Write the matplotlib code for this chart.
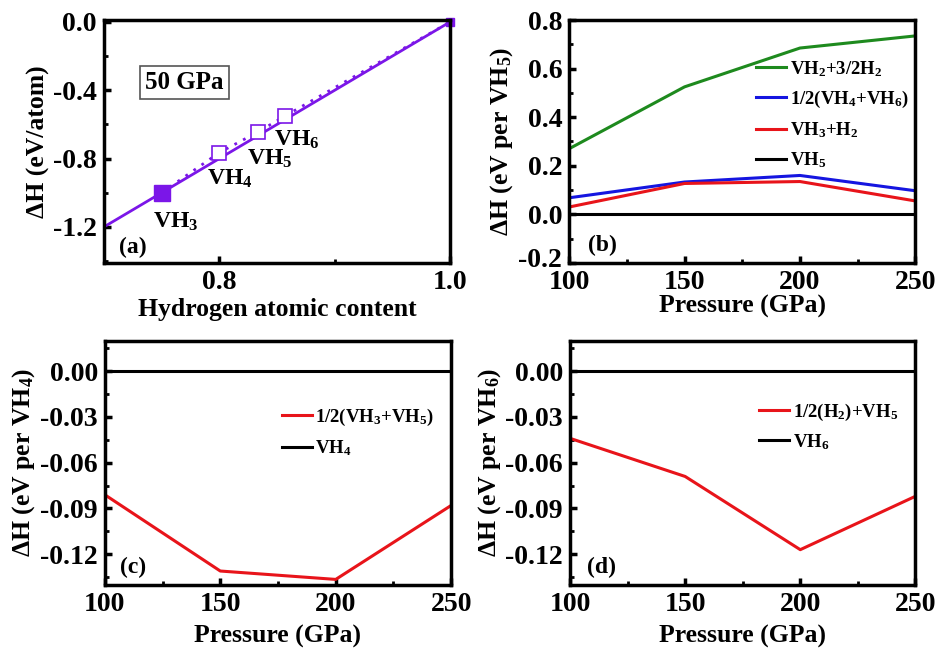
import matplotlib
matplotlib.use("Agg")
import matplotlib.pyplot as plt
from matplotlib.ticker import MultipleLocator
from matplotlib.transforms import ScaledTranslation

plt.rcParams['font.family'] = ['Liberation Serif', 'DejaVu Serif']
plt.rcParams['font.weight'] = 'bold'
plt.rcParams['mathtext.fontset'] = 'custom'
plt.rcParams['mathtext.rm'] = 'Liberation Serif:bold'
plt.rcParams['mathtext.it'] = 'Liberation Serif:bold'
plt.rcParams['mathtext.bf'] = 'Liberation Serif:bold'
plt.rcParams['mathtext.default'] = 'rm'
plt.rcParams['axes.unicode_minus'] = False

# ---- Panel (a) data ----
h_content = [0.75, 0.80, 0.8333, 0.8571, 1.0]
dH_atom = [-1.0, -0.765, -0.645, -0.55, 0.0]
hull_x = [0.70, 0.75, 1.0]
hull_y = [-1.20, -1.0, 0.0]
phase_labels = ['VH$_3$', 'VH$_4$', 'VH$_5$', 'VH$_6$']

# ---- Panels (b)-(d) data ----
pressure = [100, 150, 200, 250]
b_vh2_h2 = [0.27, 0.525, 0.685, 0.735]
b_vh4_vh6 = [0.068, 0.133, 0.16, 0.097]
b_vh3_h2 = [0.03, 0.127, 0.135, 0.055]
b_vh5 = [0, 0, 0, 0]
b_yticks = [-0.2, 0.0, 0.2, 0.4, 0.6, 0.8]
c_vh3_vh5 = [-0.081, -0.131, -0.1365, -0.088]
c_vh4 = [0, 0, 0, 0]
d_h2_vh5 = [-0.044, -0.069, -0.117, -0.082]
d_vh6 = [0, 0, 0, 0]
cd_yticks = [0.0, -0.03, -0.06, -0.09, -0.12]
cd_yticklabels = ['0.00', '-0.03', '-0.06', '-0.09', '-0.12']

purple = '#7B16E8'
green = '#1E8A1E'
blue = '#1515E0'
red = '#E8141A'

fig = plt.figure(figsize=(9.36, 6.49), dpi=100)
axa = fig.add_axes([0.111, 0.595, 0.370, 0.374])
axb = fig.add_axes([0.608, 0.595, 0.370, 0.374])
axc = fig.add_axes([0.112, 0.099, 0.370, 0.376])
axd = fig.add_axes([0.609, 0.099, 0.369, 0.376])

TICK_FS = 20
LAB_FS = 18.5
LEG_FS = 13.5

def style(ax):
    for s in ax.spines.values():
        s.set_linewidth(2.5)
    ax.tick_params(which='major', direction='in', length=5, width=2.5,
                   labelsize=TICK_FS, top=False, right=False, pad=5)
    ax.tick_params(which='minor', direction='in', length=3, width=2,
                   top=False, right=False)
    for lab in ax.get_xticklabels() + ax.get_yticklabels():
        lab.set_fontweight('bold')

# (a)
axa.plot(hull_x, hull_y, color=purple, lw=2)
axa.plot(h_content, dH_atom, color=purple, lw=2, ls=(0, (1, 2.5)))
axa.plot(h_content[0], dH_atom[0], 's', ms=11, color=purple)
axa.plot(h_content[1:4], dH_atom[1:4], 's', ms=10, mfc='white', mec=purple, mew=1.2)
axa.plot(h_content[4], dH_atom[4], 's', ms=6, color=purple, clip_on=False)
offsets = [(-6, -13), (-9, -11), (-8, -11), (-8, -9)]
for x, y, lab, off in zip(h_content[:4], dH_atom[:4], phase_labels, offsets):
    axa.annotate(lab, (x, y), xytext=off, textcoords='offset points',
                 ha='left', va='top', fontsize=17, fontweight='bold')
axa.set_xlim(0.70, 1.0)
axa.set_ylim(-1.41, 0.01)
axa.xaxis.set_minor_locator(MultipleLocator(0.1))
axa.yaxis.set_minor_locator(MultipleLocator(0.2))
axa.set_xticks([0.8, 1.0])
axa.set_xticklabels(['0.8', '1.0'])
axa.set_yticks([0.0, -0.4, -0.8, -1.2])
axa.set_yticklabels(['0.0', '-0.4', '-0.8', '-1.2'])
axa.set_xlabel('Hydrogen atomic content', fontsize=LAB_FS, fontweight='bold', labelpad=2)
axa.set_ylabel('ΔH (eV/atom)', fontsize=LAB_FS, fontweight='bold', labelpad=2)
axa.text(0.12, 0.745, '50 GPa', transform=axa.transAxes, fontsize=18, fontweight='bold',
         va='center', ha='left',
         bbox=dict(boxstyle='square,pad=0.2', fc='white', ec='#555555', lw=1.2))
axa.text(0.045, 0.04, '(a)', transform=axa.transAxes, fontsize=17, fontweight='bold')
style(axa)

# (b)
axb.plot(pressure, b_vh2_h2, color=green, lw=2.2, label='VH$_2$+3/2H$_2$')
axb.plot(pressure, b_vh4_vh6, color=blue, lw=2.2, label='1/2(VH$_4$+VH$_6$)')
axb.plot(pressure, b_vh3_h2, color=red, lw=2.2, label='VH$_3$+H$_2$')
axb.plot(pressure, b_vh5, color='black', lw=2.2, label='VH$_5$')
axb.set_xlim(100, 250)
axb.set_ylim(-0.2, 0.8)
axb.xaxis.set_major_locator(MultipleLocator(50))
axb.xaxis.set_minor_locator(MultipleLocator(25))
axb.set_yticks(b_yticks)
axb.set_yticklabels([f'{v:.1f}' for v in b_yticks])
axb.yaxis.set_minor_locator(MultipleLocator(0.1))
axb.set_xlabel('Pressure (GPa)', fontsize=LAB_FS, fontweight='bold', labelpad=0)
axb.set_ylabel('ΔH (eV per VH$_5$)', fontsize=LAB_FS, fontweight='bold', labelpad=2)
axb.legend(loc='upper right', bbox_to_anchor=(1.03, 0.91), frameon=False,
           handlelength=1.6, handletextpad=0.2, labelspacing=0.55,
           prop={'weight': 'bold', 'size': LEG_FS})
axb.text(0.055, 0.05, '(b)', transform=axb.transAxes, fontsize=17, fontweight='bold')
style(axb)
# raise the bottom y tick label a little, as in the reference
lowlab = axb.get_yticklabels()[0]
lowlab.set_transform(lowlab.get_transform() + ScaledTranslation(0, 4 / 72, fig.dpi_scale_trans))

# (c)
axc.plot(pressure, c_vh3_vh5, color=red, lw=2.2, label='1/2(VH$_3$+VH$_5$)')
axc.plot(pressure, c_vh4, color='black', lw=2.2, label='VH$_4$')
axc.set_xlim(100, 250)
axc.set_ylim(-0.14, 0.02)
axc.xaxis.set_major_locator(MultipleLocator(50))
axc.xaxis.set_minor_locator(MultipleLocator(25))
axc.yaxis.set_minor_locator(MultipleLocator(0.015))
axc.set_yticks(cd_yticks)
axc.set_yticklabels(cd_yticklabels)
axc.set_xlabel('Pressure (GPa)', fontsize=LAB_FS, fontweight='bold', labelpad=6)
axc.set_ylabel('ΔH (eV per VH$_4$)', fontsize=LAB_FS, fontweight='bold', labelpad=2)
axc.legend(loc='upper right', bbox_to_anchor=(1.0, 0.8), frameon=False,
           handlelength=1.6, handletextpad=0.2, labelspacing=0.6,
           prop={'weight': 'bold', 'size': LEG_FS})
axc.text(0.045, 0.05, '(c)', transform=axc.transAxes, fontsize=17, fontweight='bold')
style(axc)

# (d)
axd.plot(pressure, d_h2_vh5, color=red, lw=2.2, label='1/2(H$_2$)+VH$_5$')
axd.plot(pressure, d_vh6, color='black', lw=2.2, label='VH$_6$')
axd.set_xlim(100, 250)
axd.set_ylim(-0.14, 0.02)
axd.xaxis.set_major_locator(MultipleLocator(50))
axd.xaxis.set_minor_locator(MultipleLocator(25))
axd.yaxis.set_minor_locator(MultipleLocator(0.015))
axd.set_yticks(cd_yticks)
axd.set_yticklabels(cd_yticklabels)
axd.set_xlabel('Pressure (GPa)', fontsize=LAB_FS, fontweight='bold', labelpad=6)
axd.set_ylabel('ΔH (eV per VH$_6$)', fontsize=LAB_FS, fontweight='bold', labelpad=2)
axd.legend(loc='upper right', bbox_to_anchor=(1.0, 0.82), frameon=False,
           handlelength=1.6, handletextpad=0.2, labelspacing=0.5,
           prop={'weight': 'bold', 'size': LEG_FS})
axd.text(0.05, 0.05, '(d)', transform=axd.transAxes, fontsize=17, fontweight='bold')
style(axd)

fig.savefig('out.png', dpi=100)
